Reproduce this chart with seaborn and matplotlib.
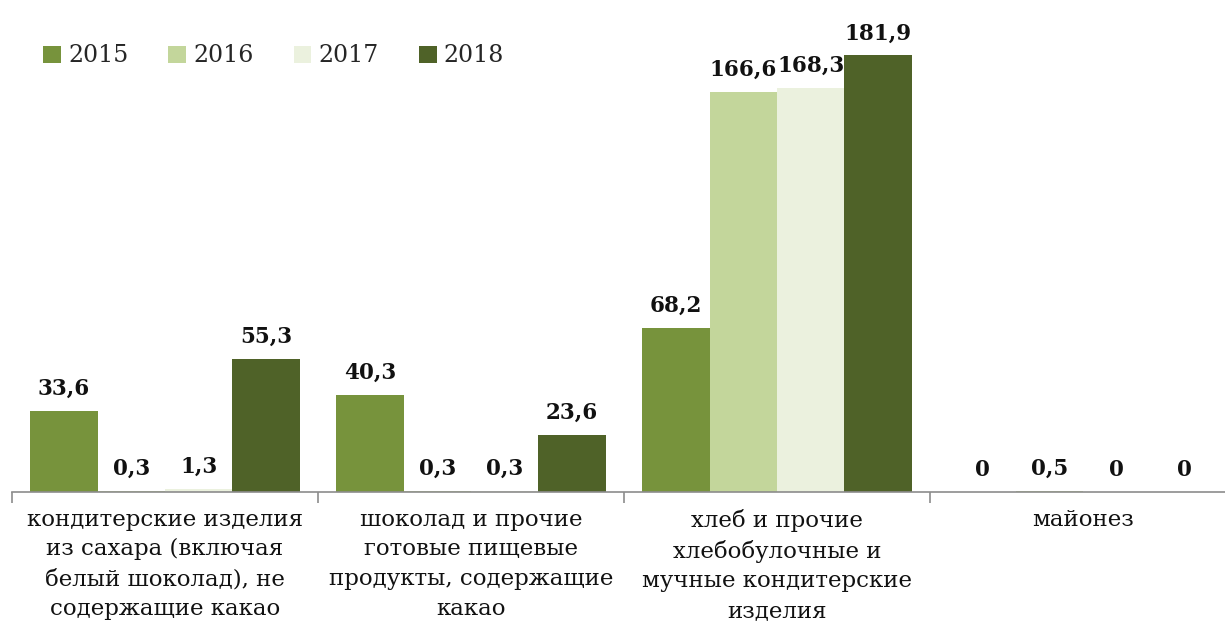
import matplotlib

matplotlib.use("Agg")
import matplotlib.pyplot as plt
import pandas as pd
import seaborn as sns

CATEGORIES = [
    "кондитерские изделия\nиз сахара (включая\nбелый шоколад), не\nсодержащие какао",
    "шоколад и прочие\nготовые пищевые\nпродукты, содержащие\nкакао",
    "хлеб и прочие\nхлебобулочные и\nмучные кондитерские\nизделия",
    "майонез",
]
YEARS = ["2015", "2016", "2017", "2018"]
VALUES_2015 = [33.6, 40.3, 68.2, 0]
VALUES_2016 = [0.3, 0.3, 166.6, 0.5]
VALUES_2017 = [1.3, 0.3, 168.3, 0]
VALUES_2018 = [55.3, 23.6, 181.9, 0]
COLORS = ["#77933C", "#C3D69B", "#EBF1DE", "#4F6228"]


def fmt(v: float) -> str:
    return f"{v:g}".replace(".", ",")


def main() -> None:
    series = [VALUES_2015, VALUES_2016, VALUES_2017, VALUES_2018]
    rows = []
    for year, vals in zip(YEARS, series):
        for cat, v in zip(CATEGORIES, vals):
            rows.append({"category": cat, "year": year, "value": v})
    df = pd.DataFrame(rows)

    sns.set_style("white")
    plt.rcParams["font.family"] = ["DejaVu Serif"]

    fig = plt.figure(figsize=(12.25, 6.3), dpi=100)
    # the plot area runs a little past the right edge, as in the original
    ax = fig.add_axes([12 / 1225, 138 / 630, 1224 / 1225, 492 / 630])

    sns.barplot(
        data=df,
        x="category",
        y="value",
        hue="year",
        order=CATEGORIES,
        hue_order=YEARS,
        palette=COLORS,
        width=0.88,
        gap=0,
        saturation=1,
        linewidth=0,
        errorbar=None,
        ax=ax,
    )

    for container, vals in zip(ax.containers, series):
        ax.bar_label(
            container,
            labels=[fmt(v) for v in vals],
            padding=8,
            fontsize=15.5,
            fontweight="bold",
            color="#111111",
        )

    ax.set_xlim(-0.5, len(CATEGORIES) - 0.5)
    ax.set_ylim(0, 205)
    ax.set_yticks([])
    ax.set_xlabel("")
    ax.set_ylabel("")
    for side in ["top", "left", "right"]:
        ax.spines[side].set_visible(False)
    ax.spines["bottom"].set_color("#8C8C8C")
    ax.spines["bottom"].set_linewidth(1.2)

    ax.set_xticks(range(len(CATEGORIES)))
    ax.set_xticklabels(CATEGORIES, fontsize=16.5, linespacing=1.45, color="#111111")
    ax.tick_params(axis="x", which="both", bottom=True)
    ax.tick_params(axis="x", which="major", length=0, pad=12)
    ax.set_xticks([i - 0.5 for i in range(len(CATEGORIES) + 1)], minor=True)
    ax.tick_params(axis="x", which="minor", length=8, width=1.2, color="#8C8C8C")

    ax.legend(
        loc="center left",
        bbox_to_anchor=(22 / 1225, 1 - 56 / 630),
        bbox_transform=fig.transFigure,
        ncol=4,
        frameon=False,
        fontsize=17,
        handlelength=0.75,
        handleheight=0.75,
        handletextpad=0.3,
        columnspacing=1.7,
        title=None,
    )

    fig.savefig("out.png", dpi=100)
    plt.close(fig)


if __name__ == "__main__":
    main()
